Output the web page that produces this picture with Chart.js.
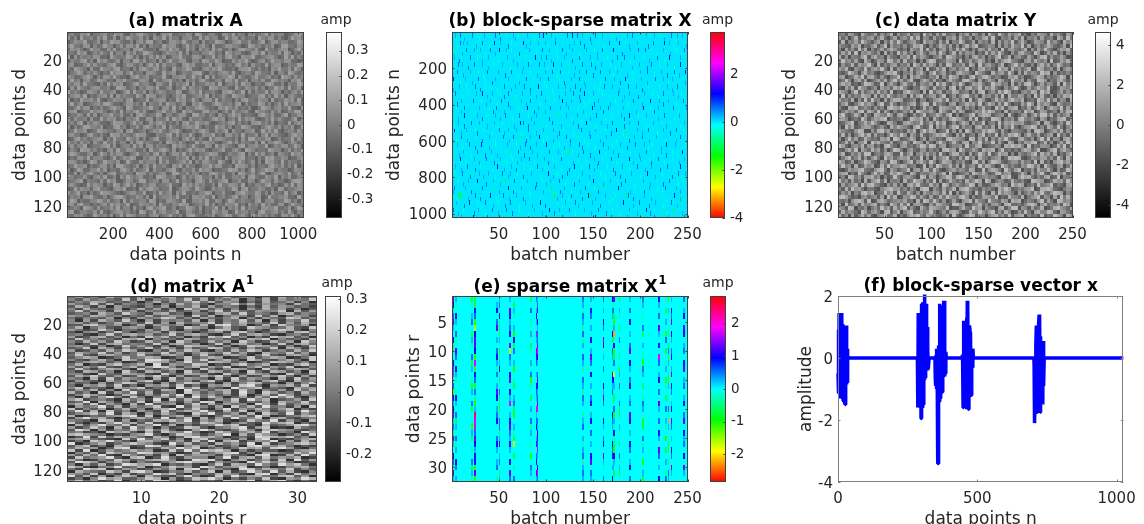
<!DOCTYPE html>
<html>
<head>
<meta charset="utf-8">
<script src="https://cdn.jsdelivr.net/npm/chart.js@4"></script>
<style>
html, body { margin: 0; padding: 0; background: #fff; overflow: hidden; }
#page { position: relative; width: 1144px; height: 524px; overflow: hidden; }
canvas { position: absolute; left: 0; top: 0; }
</style>
</head>
<body>
<div id="page"></div>
<script>
// tick labels
const ticksN1024 = [200, 400, 600, 800, 1000];
const ticksD128 = [20, 40, 60, 80, 100, 120];
const ticksBatch = [50, 100, 150, 200, 250];
const ticksR32x = [10, 20, 30];
const ticksR32y = [5, 10, 15, 20, 25, 30];
const ticksF_x = [0, 500, 1000];
const ticksF_y = [-4, -2, 0, 2];
const barTicksA = [-0.3, -0.2, -0.1, 0, 0.1, 0.2, 0.3];
const barTicksB = [-4, -2, 0, 2];
const barTicksC = [-4, -2, 0, 2, 4];
const barTicksD = [-0.2, -0.1, 0, 0.1, 0.2, 0.3];
const barTicksE = [-2, -1, 0, 1, 2];

// noise panels: one digit per cell, estimated texture on a coarser grid than the original
const matrixA = [
"453365724456347563254675435246573344652763455326647354256345736455234675",
"635274453647336254754463526547364425563374645523746635344275466353247564",
"246557334625476643352564773452366547435526344765235674463357246645533476",
"574436625347552463664735254437566324745356427334665542376453546237744365",
"365642475533647345526674334256475633745264537463352467554632744356623574",
"443756235464373552646347753324655473624435576342764553236647354463752436",
"726354546633275444763525364746235574336652447353674426557334566423747353",
"354467352756434625537746345263574466325537644752336465742356347554663324",
"562335746443567324664352574736445326756334472565343674526443735662354476",
"437654263375546734425367546635327445763325646574334256674353426574463752",
"245763546424375663573442665337456235446773254356647324553764436255376434",
"653346752536647433256745634447325566347452736345576264335744563427653645",
"374525634765342657443366527435674352645367433552764734625546337645426573",
"546637443253746562346745532664373545726344656372454637552443676335254476",
"263754356644523776345254664733562447365453276645532743654635244756373462",
"745423665374456235737446253565344762356473445326675347263544736652435647",
"356647243556372645443752766345324657334564725346437655234467353746256434",
"624375564732446553672344735566243756347425663735442536744365527344656372",
"473562345647753324664537254463755346226574335764453672534476352463745563",
"335746624353467542763345574426637352544676433265754634352247653564473326",
"567234475664235373546746323557446327564336745524637445632755436462354773",
"244653736245574463352675344762553466327745354264357563443267546335724465",
"736445263374656342545733662544737563264453346756245374656323547464335726",
"453672546533247664357452364675343526744755632345467353426674536244373565",
"625347755462336745244636753547264335665742433756352447653324675463546237",
"347556234765443562673345246574356742335467533645726443556237464732455364",
"564423674353276645435766322544673635474236557342664537344625736543246755",
"236745345662537443754635246733564425746353274665443526377454662353447363",
"745364526437446355263674543352765464233746655324574635443627355764246534",
"463557234456736245537462663544327565347433652746543267355644723546634752",
"354276645342563744665335274467536243574656324457335642765344376552463547",
"576433562475364663245744536735246647353244576632354467253746345265437564",
"243664735553247346576225466374433545726364735442635567344253767446523356",
"665342476347554623743364555274633456472536644375326475346252766437354435",
"347556243466352775434625637445326573644235574663342766535244367546353724",
"524763355746244367536345726443567325446375652334476635247345766354423654",
"436254674352567345442766353456237744635524367645335276446357324565473462",
"753446325647335264754563342776445236354674452637335546267433654725463356",
"345672544363756224653477345526634735442675364356724463365247553644236775",
"564323746552437635746235466344573327564645335274466537243554673423647365",
"237465536744325657334264675534472356643754236455347626734465335276344565",
"645734253476654323566447235374562647334355762446332567544763526443735624",
"354526674335246775344653627345564733426656437245346735524662374455633274",
"476243355764634527364455376243665437225564733652476345443672556344763525",
"563674424356375644723365546274435576623454736243655734264537453366247544",
"345427653634464735526342674567335244765362445736254637354426655733462476",
"672355446373245664534276347356445723664352437546623745534267445635374254",
"436564237545362473765344256634574352677433546245763356427464535326647435"
];

const matrixY = [
"452763185347264581634725519462738345164727536184295374682415376528463175",
"736148254672583147256394816527341657284361547839215462738154627345186294",
"281547396425716384952467318564273815496237164528173649258413765294631857",
"643275814368259174536248793152486372615847923465172638549271463586324719",
"517362948152473686324175492836157263849415276384519267435816274953147682",
"374829165743618252947361584267395148273656142837495216378542961374825163",
"826154379268451743165829476314572986341527846153792481563274158926347512",
"495637218513762984728346151698234765192473586241736895421673854619237584",
"163482756941825367254719638475162983547286193674258136947325168472596341",
"758216439367594182646283571923748156365914278453196728463581297346281575",
"324975168452136879315472684169357242786531964218467395172846539781624353",
"671348592784263145926185743254816397614279358963541276835124687253469718",
"249516837135748269473692158637241585328964172475186329547163298614378526",
"586723149862391574158437265471958326495137684239674518263895147365281947",
"317482965246175638695214387528346179162784593758421636941273586492137658",
"864159273573846291327965418193672548734516289146385972315648729681247363",
"192635487618274953546183792467259136258943617563729184476251938325164879",
"745381629394517268872346155136784925637192486214856379658134297493726518",
"368214795751692384143578269829453167145867392586273941327496185762185346",
"521879346426351897695724138361287654972635148341958267814372596158649273",
"147563892863927415236481975574196328386124759697341825452968137623517489",
"693248517318754962784126359245863791513479268872456193136725849948263571",
"875134296257689143451397682618425379764283915329871546289546317514378926",
"236791458596312874127864593473958126258617349145293768667324581873146295",
"419582367742463185865317942391746258926451783537182649314679825286394157",
"754326981163895724342758169587134926171962548698427315543261897135748263",
"382614795827341596496175283246879531738245169253916487961584372467193528",
"615947238534276819723586147165342897654198273816375942278436159392651784",
"248371569196854372358429761731695248427816593549273186153768924826147395",
"973156482672418953167342598498267135562934781234651879785192436651384927",
"326849175385726149841573266253418967196347528678159342426873591147926853",
"581264739914537862293681574746293158835172496392486715164357928573814269",
"147935826268419573576824391618357924273946185425671398982136547736295184",
"862371459743165298314792685395148762546218937159873246637452918241689573",
"495618237571283946687345129162974583718356294874129635326598471953267148",
"213756894326894175245916738839521467465387129268741953791436285584162397",
"678142953159472386973186254467358192134629758523894671248517369316975824",
"351984627784615239426753198275146983897263145645318792169784253782391546",
"946273518267938154518349762639172485352846971971465238435219876124867395",
"173568294895421637261785943384619725743598162236874519687135294569243178",
"528396741442157896735264189916427358178953426453186972354679128897321465",
"264715389681349572943852617547638291625741938318295764172463859436987152",
"897423156356271948126598374272384965489615237764913285538146792651729483",
"435168972912786345657341829849526137316792854295437618781354269274198563",
"619347285578253196384916752163875429967124583526741893342589716835462971",
"752981436146395728479263185387654912258439671643178259916527348124896537",
"284653197367418925815792364594136278731285496479263851263941785598317642",
"936172584721569348142687953865324719314798265157846392678153429243975186"
];

const matrixA1 = [
"46352745365267354624735516274635",
"53645438372546483725461537264548",
"35476343514736458473651427346251",
"64383725435152746315584736452743",
"37526164325361547263541427365342",
"52743361473625185736251637462513",
"48365274625437346258374365581736",
"34527538542673415426738354267354",
"65376452437346528371465283714652",
"42543615264587352643571526438735",
"51627538416254537162548371625483",
"56352474538261745582647453826374",
"33785461372654613728946137285461",
"47146325651473286514732865347328",
"64238514426373154268731542687315",
"31562484135627541356278413562784",
"45214836756348367521483675214536",
"62367351428573514286935142867351",
"38453427681534276345342768153427",
"53746385237461852374618523746185",
"41382674543826745138267451382674",
"56425138464251387642513876425138",
"34817526348375263487352634817526",
"62353748621537486215374862453748",
"37548362475483625754836217548362",
"48326754483267514832675148326751",
"35761248457612483576124835761248",
"53257418639974184825741863257418",
"24676351248763594487635124876351",
"47132684571926548713268457132684",
"63648325736985257364812573648125",
"38425763184257631842576318425763",
"42763518427635184276351842763518",
"55218437652184376521843765218437",
"37584362375841623758416237584162",
"54172836541728365417283654172836",
"26431745268317452683174526831745",
"53416258734162587341625873416258",
"41657382416573824165738941657382",
"58243175682431958243195682431756",
"36472518345276194536728415362847",
"73518264937245186354729418635274",
"25864137526384917463528147396254",
"41736952841563729485136274958316",
"68245317462918375136482957134628",
"34917526381745263981572436175483",
"57382641729356148273645196283574",
"16459372645821937526184739452618",
"82536147351679248315926475368142",
"49271835164283576942738156247395",
"35684927516374218593462718539264",
"71243568928145736214857396124578",
"26957314675392481726394581673245",
"54318726143768592647213854926317",
"83142695738214653875146329578142",
"17369548265937142459682317346895",
"62485173946152387314579268121743",
"39716254858473126963248517865324",
"45231867317286594128635749254196",
"78654132569314875246917386413528",
"13928475642751389675134298768351",
"56743218394682517834526179132467",
"24186953177534628391782465916273",
"91357246865219473527463918245786",
"36824175239846157462351896574132",
"47561389124375968135248673896214",
"82913645756128394978615243312567",
"15372864498563127346892517643859",
"63749218535271846652743189127394",
"28456931781394265514926738465712",
"74125386346785129893157246281936",
"39862574153246897726431958574123",
"51637249867914352148276395396841",
"86214593471358662973568124125674",
"42978136523647189265319847648253",
"17543862896125473581724963937215",
"65381427244968315437652189152846",
"93726158617432594128395674478361",
"24159673358716248796142538216597",
"58462391473985126342876915793142"
];

// panel (e): columns that carry values, one letter per row (32 rows)
const stripeBatches = [2, 5, 22, 25, 48, 51, 62, 66, 84, 90, 91, 139, 148, 161, 171, 172, 178, 189, 203, 220, 227, 230, 233, 246];
const stripeRows = [
"ihdgif.hde.hgj.gchfhifgdif.hgdif",
"fe.hf.ge.ig.hfe.ehf.gdf.gef.hg.f",
"ce.fg.dfe.gdf.ecf.gd.ecfd.e.gdfe",
"ddhgcbhiihcjdhgdgecfkjjgihfhhdic",
".fh.gi.f.ghfeg.fih.fgh..ghf.fg.e",
"fg.heddf.cefh.d.gdeceggdfh.fg.df",
"f.ihfgh.ibgf.hi.hfj.fhigfhf.h.ig",
".dfe.fchdg.fc.ed.fgdc.fedb.d.e.g",
"d.g.e.f.de.f.gce.d.f.gef.e.c.gf.",
"g.fhf.gf.iig.f.hgf.jfgh.fi.gh.if",
"fgi.hfjgijhf.gihfgij.gfhigjf.hjg",
"gfegfegef.gfe.gfegf.efg.fefgefgf",
"f.hg.f.h.fig.h.f.gh.fh.g.f.hi.gf",
"gef.hg.ihef.ge.hfig.ehf.gh.ife.g",
"h.gf.ehd.gfe.ihfg.e.hgf.ehgi.f.h",
"ie.dcfa.hcdg.b.fed.gcfehedchf.de",
"d.fe.c.g.ed.cf.ge.gdc.fe.d.gefc.",
"f.g.h.f.gi.hf.gh.fg.ih.f.hg.fh.g",
"gf.e.gd.f.ecgf.d.egf.cd.gef.c.fd",
"hf.g.if.h.jg.fh.g.if.g.hf.ig.f.h",
"e.d.f.cg.d.ef.ce.d.g.fe.c.d.f.eg",
"c.fe.ed.dgcf.dcf.e.geaf.edc.d.gf",
"f.hgi.hf.gh.fi.hg.fh.ig.f.hg.if.",
"g.fh.ih.fg.hi.fg.fh.gi.hfg.h.if."
];

// panel (b): each band is 40 rows tall, token = batch number + level letter
const sparseBands = [
"4f 9g 22g 27e 35f 47g 58e 66f 71e 80f 93g 97h 106f 123g 128h 133g 139f 152g 160f 169e 186f 192g 206f 215f 221e 233g 239f 245f",
"9g 13f 17f 33g 46h 52f 63e 76i 84f 92f 100f 110g 117e 130f 137g 148f 156e 167g 178h 184e 197f 214g 226h 231f 240f",
"2e 16g 24f 31f 41g 51h 58f 64e 83f 96g 104f 111e 117g 128f 143f 151e 160g 172h 190f 198g 205g 212e 224f 238e 247g",
"3f 11e 20g 28e 39f 59f 72d 78e 89h 95f 101g 112e 120f 136g 147f 155f 165e 176g 183g 194f 203e 218g 231h 242f",
"7g 12f 24g 33f 44e 54f 70f 81g 93g 98f 108h 116f 125d 139g 148g 159f 168e 180f 199f 212g 220e 229f 243h",
"6g 20f 29e 38g 50f 63g 75f 84e 99f 107g 115g 124e 135f 143g 158g 167f 176f 192e 200f 208g 222f 236g 248h",
"2h 15f 29g 35e 47f 60f 79g 87e 94f 103g 114e 127f 136g 146d 163g 173f 184h 193e 201f 216g 225f 234f 244e",
"8f 16e 25g 36e 56g 68f 77g 92h 101e 113f 121f 131g 142f 151e 162g 171f 187g 196f 209e 220e 229f 239g",
"4g 18e 26f 33h 43f 52e 60g 75f 84f 95g 108e 121f 129g 141h 150f 160e 177g 188f 204f 213e 225g 235f 244e",
"11f 23g 32e 41f 53g 67d 74f 84g 100f 109e 118h 127f 137g 146e 156f 174e 181f 193g 211h 220f 230f 246g",
"5e 14g 30f 40e 48g 62f 71e 80h 92f 105g 115f 124f 134e 149h 158f 166g 182f 203i 211e 219f 228e 235g 249f",
"1g 14h 27f 37e 47f 57g 72g 81e 90f 111d 122f 133f 143e 154g 170e 180f 189h 198e 207f 226g 241f",
"7f 21g 30f 45f 54e 61e 73h 76g 88f 96e 107g 129f 138e 143h 159f 170g 178d 188f 198g 214f 223e 232e 247f",
"3h 16f 25e 34e 51g 60f 69f 82g 97f 108f 119e 138g 153f 163e 175h 186d 197f 209g 224f 238g 246e",
"10g 26e 40f 55g 66g 74c 84f 93h 102e 112f 122g 132d 147g 155e 164f 183d 185e 194f 202g 217f 232e 243g",
"6f 19g 32h 47e 59f 69e 78g 90f 101h 114e 126f 135g 144e 161g 170e 179f 195g 204f 213e 228h 237f",
"2e 13f 28g 42f 58d 71g 86f 95e 104g 113f 122d 125c 128e 140g 157h 172f 181e 190e 206g 222f 234e 245h",
"9h 24f 37g 52f 65e 74f 83g 98f 107e 116g 134e 151f 160e 169g 188h 200f 210e 219g 234e 247f",
"4f 17g 31e 49h 63f 77e 91g 100e 109f 130h 138e 146g 155f 165e 181f 197g 212f 229g 242h",
"12g 22d 30f 39f 54g 62f 70e 85f 103h 112e 123g 139f 158e 174g 191f 208h 223e 240g 248f",
"7e 18f 28h 44f 57c 67g 80f 96e 105f 114g 136f 150h 168f 176e 184g 203f 218e 231g 246e",
"3g 15f 33g 46d 60h 74f 89g 106c 120f 142g 151e 160d 177h 195e 210f 218e 227g 238f",
"8c 9d 11c 25g 41h 55g 69f 84e 107d 109c 117f 127g 145h 147c 163f 174e 185c 187g 204f 220d 236h",
"5f 19h 28e 36g 50e 62g 78f 94h 112e 121f 131g 149f 167e 182h 199g 216f 233g 244d",
"2g 13e 29f 43g 58g 72e 88f 104h 114f 125g 141f 156g 170e 189f 206h 215e 225d 235c",
"10f 23h 38g 51f 64e 81g 99f 118g 135e 152h 169g 186f 201e 215g 230f 247g"
];
// second pass, same bands shifted by half a band
const sparseBandsB = [
"14f 30e 52g 68f 88e 110f 126e 147g 175f 198e 226f 236e",
"6e 26f 40e 60g 79f 103e 125f 141g 162e 188f 209g 235e 249f",
"12f 36e 47f 72g 90e 122f 135e 155f 181g 218e 232f 244e",
"8g 33f 50e 66f 84e 106f 128g 149e 171f 190e 210f 226e",
"3e 18g 39f 62e 76f 103e 131f 153g 174e 192f 208g 236e",
"13f 34e 57g 71e 91f 112e 130f 150g 172e 186f 215e 229g 241f",
"9e 22f 43g 54e 72f 98e 120g 141f 158e 179g 208f 230e 248f",
"2f 31g 49e 63f 84g 107e 126f 137g 157e 178f 202g 214e 234f",
"12e 38f 56g 68e 90f 103e 114f 135g 167e 183f 198g 219e 240f",
"6g 17e 37f 49e 60g 79f 94e 122f 142e 151g 168f 187e 202f 224g 238e",
"10f 25e 44g 56f 75e 88g 99f 118e 140f 161g 177e 196f 215g 240e",
"7f 20e 33g 52f 65e 85f 104g 128e 147f 163e 183g 203e 219f 236e",
"3e 14g 38f 49e 67f 82g 101e 116f 134g 152e 165f 183g 206e 228f 242e",
"11f 28g 43e 56f 74e 90f 114g 129e 146f 169g 182e 202f 218e 232g",
"5e 17f 33g 47e 61f 79g 97e 108f 126g 141e 158f 175e 189g 210f 227e 238f",
"1f 12e 25g 40f 53e 73f 84g 108e 120f 139g 152e 166f 186g 209e 222f 245e",
"8f 21e 36g 49f 64e 77g 91f 118e 134f 147g 163e 177g 199f 214e 228g",
"15e 30f 46g 59e 70f 88e 103g 124e 129f 143e 156g 175e 193f 212g 226e 241f",
"11f 25g 43e 56f 69g 84e 96f 116e 125g 151f 172g 188e 205f 221g 236e",
"1e 20g 34f 47e 60f 76g 94e 108f 117g 134e 146f 163e 179g 200e 216f 234g 244e",
"13f 24e 37g 52f 75e 90g 101f 121e 130g 145e 161f 180g 194e 211f 225g 240e",
"2f 21g 40e 51f 66g 83e 97f 115g 127e 137f 156g 172e 190f 204g 223e 243f",
"5e 18f 31g 48e 61f 76g 93e 112f 124e 139g 153f 170e 193g 212f 228e 243f",
"14g 33e 44f 57g 72e 86f 100g 118e 134f 158g 176e 193f 210g 224e 239f",
"7f 24g 36e 50f 65g 81e 96f 109g 131e 148f 164g 179e 197f 211g 229e 245f",
"4e 18g 32f 45e 58g 72f 90e 108f 127g 142e 160f 176g 194e 209f 223g 238e"
];
const levelAmps = { a: -2.5, b: -1.9, c: -1.2, d: -0.7, e: -0.3, ".": 0, f: 0.3, g: 0.6, h: 1, i: 1.5, j: 2, k: 2.7 };

// panel (f), one pair of arrays per active block
const blockX1 = [0,1,2,3,4,5,7,8,9,10, 12,13,14,15,17,18,20,21,22,23, 25,26,27,28,29,30,31,32,33,34, 35,36,38];
const blockY1 = [-0.5,-1.1,0.9,-1.15,1.45,-0.9,1.45,-1.15,1.4,-1.3, 1.25,-1,1.45,-1.3,1.1,-1.35,0.3,-1.4,0.6,-1.5, 0.5,-1.5,0.4,-0.6,1.05,-0.8,1.05,-0.85,0.3,-0.8, 0.1,0,0];
const blockX2 = [285,286,287,288,289,290,291,292,293,294, 296,297,298,299,300,301,302,303,304,305, 307,308,309,310,311,312,313,314,315,316, 317,318,319,320,321,323,324,327];
const blockY2 = [0,-0.2,-1.6,1.45,-1.6,1.45,-0.9,1,-1.6,0.8, -1.2,0.4,-1.95,0.7,-1.95,1.75,-1.6,1.8,-0.7,1.8, -1.5,1.5,-0.7,2.05,-0.7,2.05,-0.6,1.7,-0.65,1.75, -0.4,1.7,-0.4,1,-0.4,0.3,-0.35,0];
const blockX3 = [348,349,350,351,352,353,354,355,356,358, 359,360,361,362,363,364,365,366,367,368, 369,370,371,373,375,376,378,379,380,381, 382,383,384,386,387,389];
const blockY3 = [0,-0.6,-0.2,-0.9,0.1,-1,0.3,-1,-0.5,-3.4, -3.4,0.4,-0.9,0.4,-1.4,1.75,-1.4,1.75,-1.3,0.9, -1.1,1.7,-1,0.2,-1.1,0.4,-0.6,1.85,-0.6,1.85, -0.6,0.5,0.3,-0.5,0.2,0];
const blockX4 = [445,447,449,450,451,452,453,454,455,456, 457,458,459,460,461,462,463,464,465,466, 468,470,471,472,474,475,476,478,480,482, 484,486];
const blockY4 = [0,0.1,-1.6,1.2,-1.6,1.2,-0.4,1.2,-0.1,1.1, -0.2,0.9,0.2,0.6,-0.4,1.3,-1.65,1.85,-1.65,1.85, -1.65,1.05,-1.1,1.05,0.85,-1.2,0.8,-1.2,0.3,-0.3, 0.3,0];
const blockX5 = [702,703,704,705,706,708,710,712,713,714, 715,716,718,720,722,723,724,726,727,729, 731,732,733,735,736,737,738,739,740];
const blockY5 = [0,0.05,-0.3,-2.1,-2.1,-0.8,0.4,1.05,-1.75,1.05, -1.75,0.6,-1,1.1,1.4,-1.75,1.4,-1.75,0.7,-1.2, 0.5,-1.5,0.55,-1.5,0.55,-0.9,0.55,-0.9,0];
const vecX = [...blockX1, ...blockX2, ...blockX3, ...blockX4, ...blockX5, 1024];
const vecY = [...blockY1, ...blockY2, ...blockY3, ...blockY4, ...blockY5, 0];

const fontFamily = "'DejaVu Sans', sans-serif";
const tickColor = "#262626";
const W = 1144, H = 560;

function grayColor(t) {
    let g = Math.round(Math.min(1, Math.max(0, t)) * 255);
    return "rgb(" + g + "," + g + "," + g + ")";
}

// red -> yellow -> green -> cyan -> blue -> magenta -> red, bottom to top
function hueColor(t) {
    return "hsl(" + (Math.min(1, Math.max(0, t)) * 360) + ",100%,50%)";
}

function digitCells(rows, xMin, xMax, yMin, yMax, step) {
    let cells = [];
    let h = (yMax - yMin) / rows.length;
    rows.forEach((row, r) => {
        let w = (xMax - xMin) / row.length;
        for (let c = 0; c < row.length; c++) {
            cells.push({
                x: xMin + (c + 0.5) * w,
                y: yMin + (r + 0.5) * h,
                w: w,
                h: h,
                v: (Number(row[c]) - 4.5) * step
            });
        }
    });
    return cells;
}

function stripeCells() {
    let cells = [];
    stripeBatches.forEach((batch, i) => {
        let row = stripeRows[i];
        for (let r = 0; r < row.length; r++) {
            if (row[r] === ".") continue;
            cells.push({ x: batch, y: r + 1, w: 1.7, h: 1, v: levelAmps[row[r]] * 0.9 });
        }
    });
    return cells;
}

function bandCells() {
    let cells = [];
    let add = (bands, shift) => bands.forEach((band, i) => {
        band.split(" ").forEach(token => {
            cells.push({
                x: parseInt(token),
                y: (i + 0.5) * 40 + shift,
                w: 1,
                h: 24,
                v: levelAmps[token[token.length - 1]]
            });
        });
    });
    add(sparseBands, 0);
    add(sparseBandsB, 20);
    return cells;
}

function edge(v) {
    return Math.round(Number(v.toFixed(2)));
}

// draws the heatmap cells through the chart's own scales
const heatmapPlugin = {
    id: "heatmap",
    beforeDatasetsDraw(chart, args, opts) {
        if (!opts.colormap) return;
        let ctx = chart.ctx;
        let a = chart.chartArea;
        let xs = chart.scales.x;
        let ys = chart.scales.y;
        let color = v => opts.colormap((v - opts.min) / (opts.max - opts.min));
        ctx.save();
        ctx.beginPath();
        ctx.rect(a.left, a.top, a.width, a.height);
        ctx.clip();
        if (opts.background !== undefined) {
            ctx.fillStyle = color(opts.background);
            ctx.fillRect(a.left, a.top, a.width, a.height);
        }
        chart.data.datasets[0].data.forEach(c => {
            let x0 = edge(xs.getPixelForValue(c.x - c.w / 2));
            let x1 = edge(xs.getPixelForValue(c.x + c.w / 2));
            let y0 = edge(ys.getPixelForValue(c.y - c.h / 2));
            let y1 = edge(ys.getPixelForValue(c.y + c.h / 2));
            ctx.fillStyle = color(c.v);
            ctx.fillRect(x0, y0, Math.max(1, x1 - x0), Math.max(1, y1 - y0));
        });
        // the original image was resampled, so it is soft
        if (opts.blur) {
            ctx.filter = "blur(" + opts.blur + "px)";
            ctx.drawImage(chart.canvas, a.left, a.top, a.width, a.height, a.left, a.top, a.width, a.height);
            ctx.filter = "none";
        }
        ctx.restore();
    }
};

// gradient of a colorbar, placed with the y scale
const colorbarPlugin = {
    id: "colorbar",
    beforeDatasetsDraw(chart, args, opts) {
        if (!opts.colormap) return;
        let ctx = chart.ctx;
        let a = chart.chartArea;
        let g = ctx.createLinearGradient(0, a.bottom, 0, a.top);
        for (let i = 0; i <= 12; i++) g.addColorStop(i / 12, opts.colormap(i / 12));
        ctx.fillStyle = g;
        ctx.fillRect(a.left, a.top, a.width, a.height);
    }
};

// MATLAB style box with ticks on the inside
const framePlugin = {
    id: "frame",
    afterDatasetsDraw(chart, args, opts) {
        let ctx = chart.ctx;
        let a = chart.chartArea;
        ctx.save();
        ctx.strokeStyle = opts.color;
        ctx.lineWidth = 1;
        ctx.strokeRect(Math.round(a.left) + 0.5, Math.round(a.top) + 0.5, Math.round(a.width) - 1, Math.round(a.height) - 1);
        let len = 2.5;
        ctx.beginPath();
        chart.scales.y.ticks.forEach(t => {
            let y = Math.round(chart.scales.y.getPixelForValue(t.value)) + 0.5;
            if (!opts.barOnly) {
                ctx.moveTo(a.left, y);
                ctx.lineTo(a.left + len, y);
            }
            ctx.moveTo(a.right, y);
            ctx.lineTo(a.right - len, y);
        });
        if (!opts.barOnly) {
            chart.scales.x.ticks.forEach(t => {
                let x = Math.round(chart.scales.x.getPixelForValue(t.value)) + 0.5;
                ctx.moveTo(x, a.bottom);
                ctx.lineTo(x, a.bottom - len);
                ctx.moveTo(x, a.top);
                ctx.lineTo(x, a.top + len);
            });
        }
        ctx.stroke();
        ctx.restore();
    }
};

// panel titles: wider than the plot in (b), and (d) (e) need a raised 1
const headingPlugin = {
    id: "heading",
    afterDraw(chart, args, opts) {
        if (!opts.text) return;
        let ctx = chart.ctx;
        let a = chart.chartArea;
        ctx.save();
        ctx.textBaseline = "middle";
        ctx.textAlign = "left";
        ctx.fillStyle = opts.color;
        ctx.font = opts.weight + " " + opts.size + "px " + fontFamily;
        let mainWidth = ctx.measureText(opts.text).width;
        let cx = opts.x !== undefined ? opts.x : (a.left + a.right) / 2;
        let supWidth = 0;
        if (opts.sup) {
            ctx.font = "bold 11.5px " + fontFamily;
            supWidth = ctx.measureText(opts.sup).width + 1;
        }
        let x = cx - (mainWidth + supWidth) / 2;
        ctx.font = opts.weight + " " + opts.size + "px " + fontFamily;
        ctx.fillText(opts.text, x, opts.y);
        if (opts.sup) {
            ctx.font = "bold 11.5px " + fontFamily;
            ctx.fillText(opts.sup, x + mainWidth + 1, opts.y - 7);
        }
        ctx.restore();
    }
};

Chart.register(heatmapPlugin, colorbarPlugin, framePlugin, headingPlugin);

function newCanvas() {
    let canvas = document.createElement("canvas");
    canvas.width = W;
    canvas.height = H;
    canvas.style.width = W + "px";
    canvas.style.height = H + "px";
    document.getElementById("page").appendChild(canvas);
    return canvas;
}

function drawPanel(p) {
    let labelSize = 17;
    let labelLine = labelSize * 1.2;
    let datasets = p.line
        ? [{ data: p.line, showLine: true, borderColor: "#0000ff", borderWidth: 3.5, pointRadius: 0, borderJoinStyle: "bevel", clip: false }]
        : [{ data: p.cells, pointRadius: 0, showLine: false }];

    new Chart(newCanvas(), {
        type: "scatter",
        data: { datasets: datasets },
        options: {
            responsive: false,
            animation: false,
            events: [],
            layout: { padding: { left: 0, right: W - p.right, top: p.top, bottom: 0 } },
            plugins: {
                legend: { display: false },
                tooltip: { enabled: false },
                heading: { text: p.title, sup: p.sup, y: p.titleY, size: 17, weight: "bold", color: "#000" },
                heatmap: { colormap: p.colormap, min: p.cMin, max: p.cMax, background: p.background, blur: p.blur },
                colorbar: {},
                frame: { color: p.frameColor || "#404040" }
            },
            scales: {
                x: {
                    type: "linear",
                    min: p.xMin,
                    max: p.xMax,
                    afterBuildTicks: axis => { axis.ticks = p.xTicks.map(v => ({ value: v })); },
                    afterFit: axis => { axis.height = H - p.bottom; },
                    grid: { display: false, drawTicks: false },
                    border: { display: false },
                    ticks: {
                        autoSkip: false,
                        maxRotation: 0,
                        padding: 8,
                        color: tickColor,
                        font: { family: fontFamily, size: 15 },
                        callback: v => String(v)
                    },
                    title: {
                        display: true,
                        text: p.xTitle,
                        color: tickColor,
                        font: { family: fontFamily, size: labelSize, lineHeight: 1.2 },
                        padding: { top: 0, bottom: H - p.xTitleY - labelLine / 2 }
                    }
                },
                y: {
                    type: "linear",
                    min: p.yMin,
                    max: p.yMax,
                    reverse: !!p.reverse,
                    afterBuildTicks: axis => { axis.ticks = p.yTicks.map(v => ({ value: v })); },
                    afterFit: axis => { axis.width = p.left; },
                    grid: { display: false, drawTicks: false },
                    border: { display: false },
                    ticks: {
                        autoSkip: false,
                        padding: 5,
                        labelOffset: 2,
                        color: tickColor,
                        font: { family: fontFamily, size: 15 },
                        callback: v => String(v)
                    },
                    title: {
                        display: true,
                        text: p.yTitle,
                        color: tickColor,
                        font: { family: fontFamily, size: labelSize, lineHeight: 1.2 },
                        padding: { top: p.yTitleX - labelLine / 2, bottom: 0 }
                    }
                }
            }
        }
    });
}

function drawBar(b) {
    new Chart(newCanvas(), {
        type: "scatter",
        data: { datasets: [{ data: [], pointRadius: 0 }] },
        options: {
            responsive: false,
            animation: false,
            events: [],
            layout: { padding: { left: b.left, right: 0, top: b.top, bottom: H - b.bottom } },
            plugins: {
                legend: { display: false },
                tooltip: { enabled: false },
                heading: { text: "amp", x: b.ampX, y: b.ampY, size: 14, weight: "normal", color: tickColor },
                heatmap: {},
                colorbar: { colormap: b.colormap },
                frame: { color: "#404040", barOnly: true }
            },
            scales: {
                x: { type: "linear", display: false, min: 0, max: 1 },
                y: {
                    type: "linear",
                    position: "right",
                    min: b.min,
                    max: b.max,
                    afterBuildTicks: axis => { axis.ticks = b.ticks.map(v => ({ value: v })); },
                    afterFit: axis => { axis.width = W - b.right; },
                    grid: { display: false, drawTicks: false },
                    border: { display: false },
                    ticks: {
                        autoSkip: false,
                        padding: 5,
                        color: tickColor,
                        font: { family: fontFamily, size: 13.5 },
                        callback: v => String(v)
                    }
                }
            }
        }
    });
}

// row 1
drawPanel({
    title: "(a) matrix A", titleY: 22, xTitle: "data points n", yTitle: "data points d",
    left: 67, right: 304, top: 32, bottom: 218, xTitleY: 256, yTitleX: 21,
    xMin: 0.5, xMax: 1024.5, yMin: 0.5, yMax: 128.5, reverse: true,
    xTicks: ticksN1024, yTicks: ticksD128,
    cells: digitCells(matrixA, 0.5, 1024.5, 0.5, 128.5, 0.036),
    colormap: grayColor, cMin: -0.377, cMax: 0.377, blur: 0.5
});
drawBar({ left: 326, right: 342, top: 32, bottom: 218, min: -0.377, max: 0.377, ticks: barTicksA, colormap: grayColor, ampX: 336, ampY: 20 });

drawPanel({
    title: "(b) block-sparse matrix X", titleY: 22, xTitle: "batch number", yTitle: "data points n",
    left: 452, right: 688, top: 32, bottom: 218, xTitleY: 256, yTitleX: 395,
    xMin: 0.5, xMax: 250.5, yMin: 0.5, yMax: 1024.5, reverse: true,
    xTicks: ticksBatch, yTicks: ticksN1024,
    cells: bandCells(),
    colormap: hueColor, cMin: -4, cMax: 3.75, background: 0, blur: 0.5
});
drawBar({ left: 710, right: 725, top: 32, bottom: 218, min: -4, max: 3.75, ticks: barTicksB, colormap: hueColor, ampX: 717.5, ampY: 20 });

drawPanel({
    title: "(c) data matrix Y", titleY: 22, xTitle: "batch number", yTitle: "data points d",
    left: 838, right: 1073, top: 32, bottom: 218, xTitleY: 256, yTitleX: 791,
    xMin: 0.5, xMax: 250.5, yMin: 0.5, yMax: 128.5, reverse: true,
    xTicks: ticksBatch, yTicks: ticksD128,
    cells: digitCells(matrixY, 0.5, 250.5, 0.5, 128.5, 0.48),
    colormap: grayColor, cMin: -4.65, cMax: 4.65, blur: 0.7
});
drawBar({ left: 1095, right: 1111, top: 32, bottom: 218, min: -4.65, max: 4.65, ticks: barTicksC, colormap: grayColor, ampX: 1103, ampY: 20 });

// row 2
drawPanel({
    title: "(d) matrix A", sup: "1", titleY: 288, xTitle: "data points r", yTitle: "data points d",
    left: 67, right: 317, top: 296, bottom: 482, xTitleY: 520, yTitleX: 21,
    xMin: 0.5, xMax: 32.5, yMin: 0.5, yMax: 128.5, reverse: true,
    xTicks: ticksR32x, yTicks: ticksD128,
    cells: digitCells(matrixA1, 0.5, 32.5, 0.5, 128.5, 0.05),
    colormap: grayColor, cMin: -0.29, cMax: 0.31, blur: 0.3
});
drawBar({ left: 325, right: 341, top: 296, bottom: 482, min: -0.29, max: 0.31, ticks: barTicksD, colormap: grayColor, ampX: 337, ampY: 283 });

drawPanel({
    title: "(e) sparse matrix X", sup: "1", titleY: 288, xTitle: "batch number", yTitle: "data points r",
    left: 452, right: 688, top: 296, bottom: 482, xTitleY: 520, yTitleX: 415,
    xMin: 0.5, xMax: 250.5, yMin: 0.5, yMax: 32.5, reverse: true,
    xTicks: ticksBatch, yTicks: ticksR32y,
    cells: stripeCells(),
    colormap: hueColor, cMin: -2.85, cMax: 2.85, background: 0, blur: 0.5
});
drawBar({ left: 710, right: 726, top: 296, bottom: 482, min: -2.85, max: 2.85, ticks: barTicksE, colormap: hueColor, ampX: 718, ampY: 283 });

drawPanel({
    title: "(f) block-sparse vector x", titleY: 287, xTitle: "data points n", yTitle: "amplitude",
    left: 838, right: 1131, top: 296, bottom: 482, xTitleY: 520, yTitleX: 807,
    xMin: 0, xMax: 1024, yMin: -4, yMax: 2,
    xTicks: ticksF_x, yTicks: ticksF_y,
    line: vecX.map((x, i) => ({ x: x, y: vecY[i] })),
    frameColor: "#808080"
});
</script>
</body>
</html>
